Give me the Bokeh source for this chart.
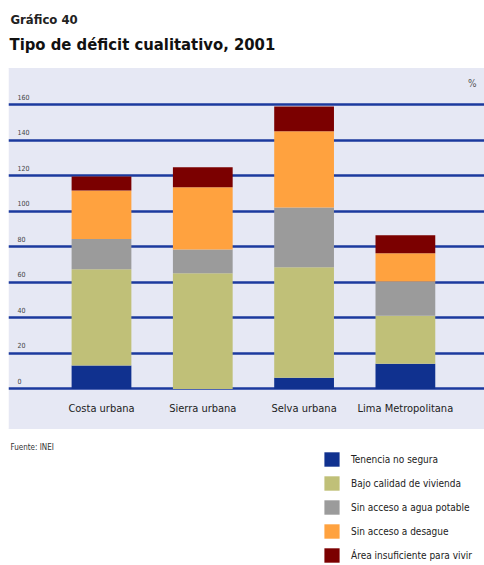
from bokeh.plotting import figure
from bokeh.models import ColumnDataSource, Range1d, Label, Legend, LegendItem
from bokeh.core.properties import value
from bokeh.embed import file_html
from bokeh.resources import INLINE

categories = ["Costa urbana", "Sierra urbana", "Selva urbana", "Lima Metropolitana"]
series = ["Tenencia no segura", "Bajo calidad de vivienda", "Sin acceso a agua potable",
          "Sin acceso a desague", "Área insuficiente para vivir"]
tenencia = [13.2, 0.0, 6.3, 14.2]
bajo_calidad = [54.2, 65.1, 62.2, 27.0]
sin_agua = [16.9, 13.4, 33.6, 19.3]
sin_desague = [27.3, 35.0, 42.9, 15.9]
area_insuf = [7.9, 11.2, 13.9, 10.1]
y_ticks = [0, 20, 40, 60, 80, 100, 120, 140, 160]
y_tick_labels = ["0", "20", "40", "60", "80", "100", "120", "140", "160"]
colors = ["#10318F", "#C0C078", "#9B9B9B", "#FFA23F", "#7B0000"]

FONT = "Liberation Sans Narrow, DejaVu Sans Condensed, sans-serif"

keys = ["s0", "s1", "s2", "s3", "s4"]
xs = list(range(len(categories)))
src = ColumnDataSource(dict(x=xs, cat=categories, s0=tenencia, s1=bajo_calidad,
                            s2=sin_agua, s3=sin_desague, s4=area_insuf))

p = figure(width=484, height=565, output_backend="svg", toolbar_location=None,
           x_range=Range1d(-0.918, 3.781), y_range=Range1d(-99.3, 218.5),
           x_axis_location=None, y_axis_location=None,
           min_border_left=8, min_border_right=0, min_border_top=0, min_border_bottom=0)
p.background_fill_color = "white"
p.border_fill_color = "white"
p.outline_line_color = None
p.xgrid.visible = False
p.ygrid.visible = False

# chart panel background band (from just above 160 to below the category labels)
p.hstrip(y0=[-22.2], y1=[180.3], color="#E6E8F4")
# horizontal gridlines at tick values
p.hspan(y=y_ticks, line_color="#1B3A9E", line_width=2.5)

rs = p.vbar_stack(keys, x="x", width=0.59, source=src, color=colors, line_color=None)

# y tick labels (above gridlines)
tsrc = ColumnDataSource(dict(y=y_ticks, t=y_tick_labels, x=[-0.918] * len(y_ticks)))
p.text(x="x", y="y", text="t", source=tsrc, x_offset=9, y_offset=-8,
       text_font=value(FONT), text_font_size="7px", text_color="#444444",
       text_baseline="middle", text_align="left")

# category labels
csrc = ColumnDataSource(dict(x=xs, y=[0] * len(xs), t=categories))
p.text(x="x", y="y", text="t", source=csrc, y_offset=20,
       text_font=value(FONT), text_font_size="11px", text_color="#222222",
       text_baseline="middle", text_align="center")

p.add_layout(Label(x=468, y=482, x_units="screen", y_units="screen", text="%",
                   text_font=FONT, text_font_size="10px", text_color="#555555",
                   text_align="right", text_baseline="middle"))

p.add_layout(Label(x=2, y=546, x_units="screen", y_units="screen", text="Gráfico 40",
                   text_font=FONT, text_font_size="13px", text_font_style="bold",
                   text_color="#222222", text_baseline="middle"))
p.add_layout(Label(x=1, y=521, x_units="screen", y_units="screen",
                   text="Tipo de déficit cualitativo, 2001",
                   text_font=FONT, text_font_size="16.5px", text_font_style="bold",
                   text_color="#111111", text_baseline="middle"))
p.add_layout(Label(x=2, y=118, x_units="screen", y_units="screen", text="Fuente: INEI",
                   text_font=FONT, text_font_size="8px", text_color="#333333",
                   text_baseline="middle"))

legend = Legend(items=[LegendItem(label=series[i], renderers=[rs[i]]) for i in range(5)],
                location=(314, 1), orientation="vertical",
                glyph_width=19, glyph_height=18, spacing=6, padding=0, margin=0,
                label_standoff=10, label_text_font=FONT, label_text_font_size="10px",
                label_text_color="#222222", background_fill_alpha=0, border_line_color=None,
                label_height=18)
p.add_layout(legend, "center")

open("out.html", "w").write(file_html(p, INLINE))
